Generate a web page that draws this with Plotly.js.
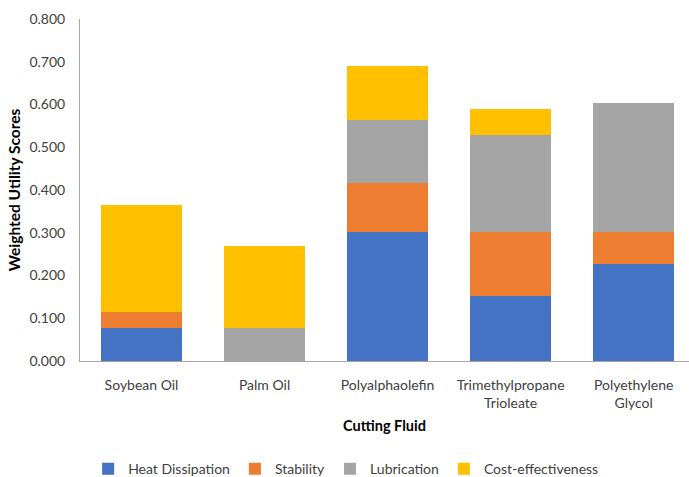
<!DOCTYPE html>
<html><head><meta charset="utf-8">
<script src="https://cdn.plot.ly/plotly-3.0.1.min.js"></script>
<style>html,body{margin:0;padding:0;background:#fff;}#chart{width:689px;height:477px;}</style>
</head><body><div id="chart"></div>
<script>
const categories = ["Soybean Oil", "Palm Oil", "Polyalphaolefin", "Trimethylpropane<br>Trioleate", "Polyethylene<br>Glycol"];
const heatDissipation = [0.077, 0, 0.302, 0.152, 0.227];
const stability = [0.038, 0, 0.114, 0.150, 0.075];
const lubrication = [0, 0.077, 0.148, 0.227, 0.302];
const costEffectiveness = [0.250, 0.192, 0.126, 0.061, 0];
const seriesNames = ["Heat Dissipation", "Stability", "Lubrication", "Cost-effectiveness"];
const colors = ["#4472C4", "#ED7D31", "#A5A5A5", "#FFC000"];
const seriesValues = [heatDissipation, stability, lubrication, costEffectiveness];

const font = "Lato, 'Open Sans', sans-serif";
const traces = seriesValues.map((v, i) => ({
  type: "bar", x: categories, y: v, name: seriesNames[i],
  marker: {color: colors[i]}, hoverinfo: "skip"
}));

const layout = {
  width: 689, height: 477,
  barmode: "stack", bargap: 0.34,
  margin: {l: 80, r: 0, t: 19, b: 116, autoexpand: false},
  paper_bgcolor: "#fff", plot_bgcolor: "#fff",
  font: {family: font, size: 14, color: "#404040"},
  showlegend: true,
  legend: {orientation: "h", x: 0.437, xanchor: "center", y: -0.316, yanchor: "middle",
           font: {size: 14, color: "#404040"}, traceorder: "normal", itemwidth: 30},
  xaxis: {
    automargin: false,
    range: [-0.5, 4.45], showgrid: false, zeroline: false,
    showline: true, linecolor: "#a6a6a6", linewidth: 1, ticks: "",
    tickfont: {size: 14, color: "#404040"}, ticklabelstandoff: 11,
    title: {text: "<b>Cutting Fluid</b>", font: {size: 14.5, color: "#000"}, standoff: 10}
  },
  yaxis: {
    automargin: false,
    range: [0, 0.8], dtick: 0.1, tickformat: ".3f", showgrid: false, zeroline: false,
    showline: true, linecolor: "#a6a6a6", linewidth: 1, ticks: "",
    tickfont: {size: 14, color: "#404040"}, ticklabelstandoff: 11,
    title: {text: "<b>Weighted Utility Scores</b>", font: {size: 15.5, color: "#000"}, standoff: 4}
  }
};
Plotly.newPlot("chart", traces, layout, {staticPlot: true, displayModeBar: false});
</script></body></html>
